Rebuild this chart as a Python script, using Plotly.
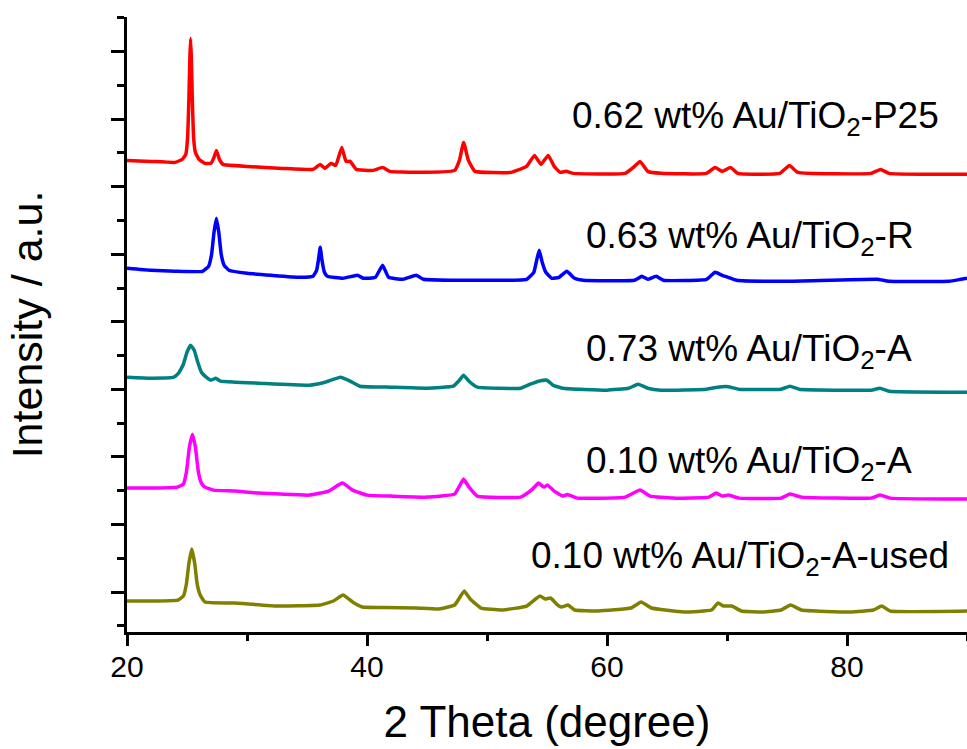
import plotly.graph_objects as go

# Stacked XRD patterns (intensity in a.u., each pattern offset vertically)
labels = [
    "0.62 wt% Au/TiO<sub>2</sub>-P25",
    "0.63 wt% Au/TiO<sub>2</sub>-R",
    "0.73 wt% Au/TiO<sub>2</sub>-A",
    "0.10 wt% Au/TiO<sub>2</sub>-A",
    "0.10 wt% Au/TiO<sub>2</sub>-A-used",
]
colors = ["#FF0000", "#0000FF", "#008080", "#FF00FF", "#808000"]

p25_x = [20, 22, 24, 24.6, 24.9, 25.05, 25.15, 25.24, 25.3, 25.36, 25.45, 25.55, 25.7, 26.0, 26.5, 27.0,
         27.25, 27.45, 27.7, 28.0, 30, 33, 35.5, 36.1, 36.5, 37.0, 37.4, 37.9, 38.25, 38.6, 39.1, 40.5,
         41.3, 41.9, 44, 47.3, 47.7, 48.05, 48.45, 49.0, 52, 53.3, 53.95, 54.5, 55.1, 55.6, 56.1, 56.6,
         57.2, 61.5, 62.2, 62.75, 63.4, 64.5, 68.3, 69.0, 69.6, 70.3, 70.9, 74.4, 75.2, 75.9, 82, 82.8,
         83.5, 90]
p25_y = [472, 471, 470, 473, 478, 495, 530, 575, 594, 575, 530, 495, 480, 473, 469, 469,
         475, 482, 473, 468, 466, 464, 463, 468, 464, 469, 467, 485, 471, 471, 463, 462,
         465, 461, 460, 462, 472, 490, 472, 461, 460, 466, 477, 468, 477, 466, 460, 461,
         459, 459, 465, 471, 461, 459, 459, 465, 461, 465, 459, 459, 467, 460, 459, 463,
         459, 458]

r_x = [20, 22, 24, 26.3, 26.8, 27.05, 27.25, 27.45, 27.65, 27.85, 28.1, 28.5, 30, 32, 34.4, 35.5,
       35.8, 35.95, 36.1, 36.25, 36.45, 36.7, 38, 39.2, 39.7, 40.7, 41.3, 41.8, 43, 44.1, 44.7, 47,
       50, 53.3, 53.9, 54.1, 54.35, 54.6, 54.9, 55.4, 56.0, 56.65, 57.3, 58, 62.3, 62.9, 63.4, 64.1,
       64.7, 68.3, 69.0, 69.6, 70.1, 70.8, 75, 82.5, 83.5, 88.5, 89.5, 90]
r_y = [364, 362, 361, 361, 366, 378, 400, 414, 400, 378, 367, 362, 359, 357, 355, 356,
       362, 372, 385, 372, 360, 356, 354, 357, 354, 355, 367, 355, 353, 357, 353, 352,
       352, 353, 360, 370, 382, 370, 360, 354, 355, 361, 354, 352, 352, 356, 353, 356,
       352, 353, 360, 357, 355, 352, 351, 353, 351, 351, 353, 354]

a073_x = [20, 22, 23.9, 24.3, 24.7, 25.0, 25.3, 25.6, 25.9, 26.2, 26.6, 27.0, 27.4, 27.8, 29, 31,
          35.2, 36.5, 37.8, 38.6, 39.4, 42, 45, 47.2, 47.7, 48.05, 48.5, 49.2, 52.8, 53.6, 54.3,
          55.0, 55.5, 56.3, 60, 61.8, 62.6, 63.4, 64.5, 68.3, 69.2, 70.1, 71, 74.5, 75.25, 76, 82,
          82.75, 83.5, 90]
a073_y = [255, 254, 255, 259, 268, 280, 287, 282, 270, 260, 255, 252, 254, 251, 250, 249,
          247, 250, 255, 251, 246, 245, 244, 246, 252, 257, 251, 245, 244, 248, 251,
          252, 247, 244, 242, 244, 248, 244, 242, 243, 245, 245.5, 243, 243, 246, 243, 242,
          244, 241, 240]

a010_x = [20, 22, 24.2, 24.7, 24.95, 25.2, 25.45, 25.7, 25.95, 26.2, 26.5, 27.2, 29, 31, 35.2, 36.8,
          37.95, 38.8, 40, 42, 45, 47.3, 47.7, 48.05, 48.5, 49.2, 52.8, 53.7, 54.3, 54.75, 55.05,
          55.6, 56.3, 56.7, 57.5, 61.5, 62.75, 63.6, 65.5, 68.5, 69.1, 69.6, 70.1, 71, 74.5, 75.25,
          76.2, 82, 82.75, 83.6, 90]
a010_y = [144, 144, 145, 148, 160, 185, 198, 185, 160, 149, 145, 142, 141, 139, 137, 141,
          149, 142, 137, 136, 135, 138, 146, 153, 145, 136, 135, 142, 149, 145, 147,
          141, 136, 137.5, 134, 135, 142, 136, 134, 135, 139, 136, 137, 134, 134, 138,
          135, 134, 137, 134, 133]

used_x = [20, 22, 24.25, 24.7, 24.95, 25.15, 25.4, 25.65, 25.85, 26.1, 26.5, 28.9, 32.5, 36.1, 37.2,
          38.0, 38.8, 39.6, 41.5, 44.1, 46, 47.3, 47.7, 48.1, 48.6, 49.5, 51.25, 53.3, 54.4, 54.85,
          55.3, 55.8, 56.2, 56.75, 57.3, 59.25, 62.0, 62.85, 63.7, 66.4, 68.7, 69.25, 69.7, 70.4,
          71.2, 73, 74.5, 75.3, 76.2, 80.25, 82.2, 82.9, 83.6, 90]
used_y = [31, 31, 32, 36, 48, 68, 83, 68, 48, 37, 30, 29, 26, 27, 31,
          37, 30, 25, 24.5, 24, 23, 27, 34, 41, 33, 24, 22, 26, 36, 33,
          34, 28, 25, 27, 22, 21, 24, 30, 24, 20, 22, 29, 26, 26,
          21, 20, 22, 27, 22, 20, 22, 26, 21, 21]

series_x = [p25_x, r_x, a073_x, a010_x, used_x]
series_y = [p25_y, r_y, a073_y, a010_y, used_y]

# label anchor points (2theta, intensity)
label_x = [72.4, 71.9, 71.8, 71.8, 71.1]
label_y = [514, 394, 281, 169, 74]

fig = go.Figure()
for xs, ys, c, name in zip(series_x, series_y, colors, labels):
    fig.add_trace(go.Scatter(x=xs, y=ys, mode="lines", name=name,
                             line=dict(color=c, width=3.5, shape="spline", smoothing=0.35),
                             showlegend=False))

for lx, ly, txt in zip(label_x, label_y, labels):
    fig.add_annotation(x=lx, y=ly, xref="x", yref="y", text=txt, showarrow=False,
                       xanchor="center", yanchor="middle",
                       font=dict(size=37, color="black", family="Liberation Sans, Arial"))

font = "Liberation Sans, Arial, sans-serif"
fig.update_layout(
    width=967, height=749,
    margin=dict(l=127, r=0, t=17, b=117, autoexpand=False),
    plot_bgcolor="white", paper_bgcolor="white",
    font=dict(family=font, color="black"),
    xaxis=dict(
        range=[20, 90], tick0=20, dtick=20, ticks="outside", ticklen=11, tickwidth=2.5,
        tickcolor="black", showline=True, linecolor="black", linewidth=3,
        showgrid=False, zeroline=False, tickfont=dict(size=30), automargin=False,
        ticklabelstandoff=-5,
        minor=dict(tick0=20, dtick=10, ticks="outside", ticklen=6, tickwidth=2.5, tickcolor="black"),
        title=dict(text="2 Theta (degree)", font=dict(size=44), standoff=25),
    ),
    yaxis=dict(
        range=[0, 615.5], tick0=40, dtick=67.6, ticks="outside", ticklen=13, tickwidth=2.5,
        tickcolor="black", showline=True, linecolor="black", linewidth=3,
        showgrid=False, zeroline=False, showticklabels=False, automargin=False,
        minor=dict(tick0=6.2, dtick=33.8, ticks="outside", ticklen=7, tickwidth=2.5, tickcolor="black"),
        title=dict(text="Intensity / a.u.", font=dict(size=43), standoff=55),
    ),
)

fig.write_html(
    "out.html",
    config={"displayModeBar": False},
    post_script="document.body.style.margin='0';document.body.style.overflow='hidden';",
)
